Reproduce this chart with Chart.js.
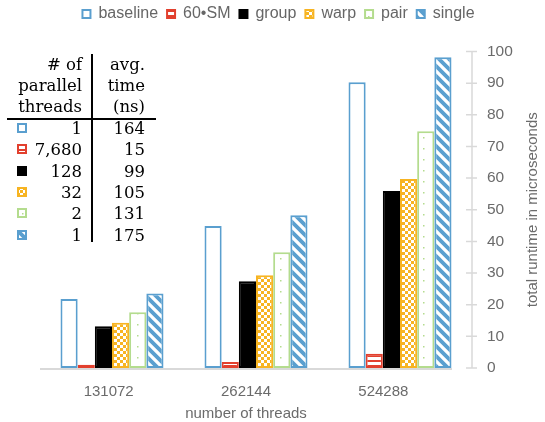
<!DOCTYPE html>
<html>
<head>
<meta charset="utf-8">
<script src="https://cdn.jsdelivr.net/npm/chart.js@4/dist/chart.umd.min.js"></script>
<style>
  html, body { margin: 0; padding: 0; background: #fff; }
  #wrap { position: relative; width: 545px; height: 422px; }
  #tbl { position: absolute; left: 0; top: 0; font-family: "DejaVu Serif", serif; font-size: 16.5px; color: #000; }
  #tbl .line { position: absolute; line-height: 21.4px; white-space: nowrap; text-align: right; }
  #tbl .rule { position: absolute; background: #000; }
  #tbl canvas { position: absolute; }
</style>
</head>
<body>
<div id="wrap">
  <canvas id="c" width="545" height="422"></canvas>
  <div id="tbl"></div>
</div>
<script>
// Categories and series (total runtime in microseconds)
const categories = ['131072', '262144', '524288'];
const seriesNames = ['baseline', '60\u2022SM', 'group', 'warp', 'pair', 'single'];
const baselineValues = [21.8, 44.9, 90.3];
const sm60Values = [1.0, 1.9, 4.5];
const groupValues = [13.2, 27.4, 55.9];
const warpValues = [14.3, 29.3, 59.7];
const pairValues = [17.6, 36.6, 74.8];
const singleValues = [23.5, 48.3, 98.2];

// Inset table: parallel threads and average time per strategy
const tableHeadLeft = ['# of', 'parallel', 'threads'];
const tableHeadRight = ['avg.', 'time', '(ns)'];
const parallelThreads = ['1', '7,680', '128', '32', '2', '1'];
const avgTimeNs = ['164', '15', '99', '105', '131', '175'];

// Axis range
const yMin = 0, yMax = 100, yStep = 10;
const xTitle = 'number of threads';
const yTitle = 'total runtime in microseconds';

const BLUE = '#5a9fcf', RED = '#e2402e', ORANGE = '#f7b422', GREEN = '#b4dc8e', BLACK = '#000000';
const TEXT = '#6b6b6b', AXIS = '#d9d9d9';
const SANS = '"Liberation Sans", Arial, sans-serif';
const AXIS_GAP = 20; // horizontal gap between last category and the value axis

// ---- fill patterns ----
function tile(w, h, paint) {
  const c = document.createElement('canvas');
  c.width = w; c.height = h;
  const g = c.getContext('2d');
  g.fillStyle = '#fff'; g.fillRect(0, 0, w, h);
  paint(g, w, h);
  return c;
}
const patCtx = document.createElement('canvas').getContext('2d');
function pattern(t) { return patCtx.createPattern(t, 'repeat'); }

const fills = {
  baseline: '#ffffff',
  sm60: pattern(tile(4, 5, g => { g.fillStyle = RED; g.fillRect(0, 0, 4, 2); })),
  group: BLACK,
  warp: pattern(tile(6, 6, g => { g.fillStyle = ORANGE; g.fillRect(0, 0, 3, 3); g.fillRect(3, 3, 3, 3); })),
  pair: pattern(tile(11, 11, g => { g.fillStyle = GREEN; g.fillRect(5, 5, 1.5, 1.5); })),
  single: pattern(tile(10, 10, g => {
    g.strokeStyle = BLUE; g.lineWidth = 3.8;
    g.beginPath();
    g.moveTo(-2, -2); g.lineTo(12, 12);
    g.moveTo(-2, 8); g.lineTo(2, 12);
    g.moveTo(8, -2); g.lineTo(12, 2);
    g.stroke();
  }))
};

const seriesValues = [baselineValues, sm60Values, groupValues, warpValues, pairValues, singleValues];
const seriesFill = [fills.baseline, fills.sm60, fills.group, fills.warp, fills.pair, fills.single];
const seriesBorder = [BLUE, RED, BLACK, ORANGE, GREEN, BLUE];

// ---- category scale whose labels are spread over the span left of the value axis ----
class SpanCategoryScale extends Chart.CategoryScale {
  getPixelForTick(index) {
    const n = this.ticks.length;
    if (index < 0 || index > n - 1) return null;
    const span = this.right - this.left - AXIS_GAP;
    return this.left + span * (index + 0.5) / n;
  }
}
SpanCategoryScale.id = 'spanCategory';
SpanCategoryScale.defaults = Chart.CategoryScale.defaults;
Chart.register(SpanCategoryScale);

// extra room between the legend row and the plot
const legendGap = {
  id: 'legendGap',
  beforeLayout(chart) {
    const lg = chart.legend;
    if (lg && !lg._gapPatched) {
      const fit = lg.fit;
      lg.fit = function () { fit.apply(this, arguments); this.height += 19.5; };
      lg._gapPatched = true;
    }
  }
};

// axis lines, tick marks and axis titles
const axisDecor = {
  id: 'axisDecor',
  beforeDatasetsDraw(chart) {
    const { ctx, chartArea: a, scales } = chart;
    const y = scales.y;
    const y0 = y.getPixelForValue(yMin);
    const yTop = y.getPixelForValue(yMax);
    ctx.save();
    ctx.strokeStyle = AXIS;
    ctx.lineWidth = 2;
    ctx.beginPath();
    ctx.moveTo(a.left, y0 + 1);
    ctx.lineTo(a.right - AXIS_GAP, y0 + 1);
    ctx.stroke();
    ctx.lineWidth = 1.5;
    ctx.beginPath();
    ctx.moveTo(a.right, yTop);
    ctx.lineTo(a.right, y0);
    y.ticks.forEach(t => {
      const p = y.getPixelForValue(t.value);
      ctx.moveTo(a.right - 6, p);
      ctx.lineTo(a.right + 5, p);
    });
    ctx.stroke();
    ctx.restore();
  },
  afterDraw(chart) {
    const { ctx, chartArea: a, scales } = chart;
    ctx.save();
    ctx.fillStyle = TEXT;
    ctx.font = '15px ' + SANS;
    ctx.textAlign = 'center';
    ctx.textBaseline = 'alphabetic';
    ctx.fillText(xTitle, (a.left + a.right - AXIS_GAP) / 2, scales.x.top + 50);
    ctx.translate(scales.y.right - 8, (a.top + a.bottom) / 2);
    ctx.rotate(-Math.PI / 2);
    ctx.fillText(yTitle, 0, 0);
    ctx.restore();
  }
};

const datasets = seriesNames.map((name, i) => ({
  label: name,
  data: seriesValues[i],
  backgroundColor: seriesFill[i],
  borderColor: seriesBorder[i],
  borderWidth: 2,
  borderSkipped: false,
  yAxisID: 'y',
  xAxisID: 'x'
}));

new Chart(document.getElementById('c'), {
  type: 'bar',
  data: { labels: categories, datasets },
  plugins: [legendGap, axisDecor],
  options: {
    responsive: false,
    animation: false,
    layout: { padding: { left: 12, right: 0, top: -3, bottom: 0 } },
    datasets: { bar: { categoryPercentage: 0.75, barPercentage: 1.0 } },
    plugins: {
      tooltip: { enabled: false },
      title: { display: false },
      legend: {
        display: true,
        position: 'top',
        labels: {
          boxWidth: 8, boxHeight: 8, padding: 9,
          color: '#666',
          font: { family: SANS, size: 16 }
        }
      }
    },
    scales: {
      y: {
        type: 'linear',
        position: 'right',
        min: yMin, max: yMax,
        ticks: { stepSize: yStep, padding: 15, color: TEXT, font: { family: SANS, size: 15.5 } },
        grid: { display: false, drawTicks: false },
        border: { display: false },
        afterFit: s => { s.width = 73; }
      },
      yl: {
        type: 'linear',
        position: 'left',
        display: true,
        ticks: { display: false },
        grid: { display: false, drawTicks: false },
        border: { display: false },
        afterFit: s => { s.width = 28; }
      },
      x: {
        type: 'spanCategory',
        position: 'bottom',
        offset: true,
        ticks: { padding: 15, color: TEXT, font: { family: SANS, size: 15 } },
        grid: { display: false, drawTicks: false },
        border: { display: false },
        afterFit: s => { s.height = 54; }
      }
    }
  }
});

// ---- inset table ----
(function buildTable() {
  const root = document.getElementById('tbl');
  const line = (text, left, width, top) => {
    const d = document.createElement('div');
    d.className = 'line';
    d.style.left = left + 'px';
    d.style.width = width + 'px';
    d.style.top = top + 'px';
    d.textContent = text;
    root.appendChild(d);
  };
  const rule = (left, top, width, height) => {
    const d = document.createElement('div');
    d.className = 'rule';
    Object.assign(d.style, { left: left + 'px', top: top + 'px', width: width + 'px', height: height + 'px' });
    root.appendChild(d);
  };
  const headTop = 53.5, rowH = 21.4, bodyTop = 117.7;
  tableHeadLeft.forEach((t, i) => line(t, 0, 82, headTop + i * rowH));
  tableHeadRight.forEach((t, i) => line(t, 92, 53, headTop + i * rowH));
  rule(7, 118.4, 149, 1.4);
  rule(91.4, 54, 1.4, 188);
  parallelThreads.forEach((t, i) => {
    const top = bodyTop + i * rowH;
    const sw = document.createElement('canvas');
    sw.width = 10; sw.height = 10;
    sw.style.left = '17px';
    sw.style.top = (top + 5) + 'px';
    const g = sw.getContext('2d');
    g.fillStyle = seriesFill[i];
    g.fillRect(0, 0, 10, 10);
    g.strokeStyle = seriesBorder[i];
    g.lineWidth = 2;
    g.strokeRect(1, 1, 8, 8);
    root.appendChild(sw);
    line(t, 30, 52, top);
    line(avgTimeNs[i], 95, 50, top);
  });
})();
</script>
</body>
</html>
